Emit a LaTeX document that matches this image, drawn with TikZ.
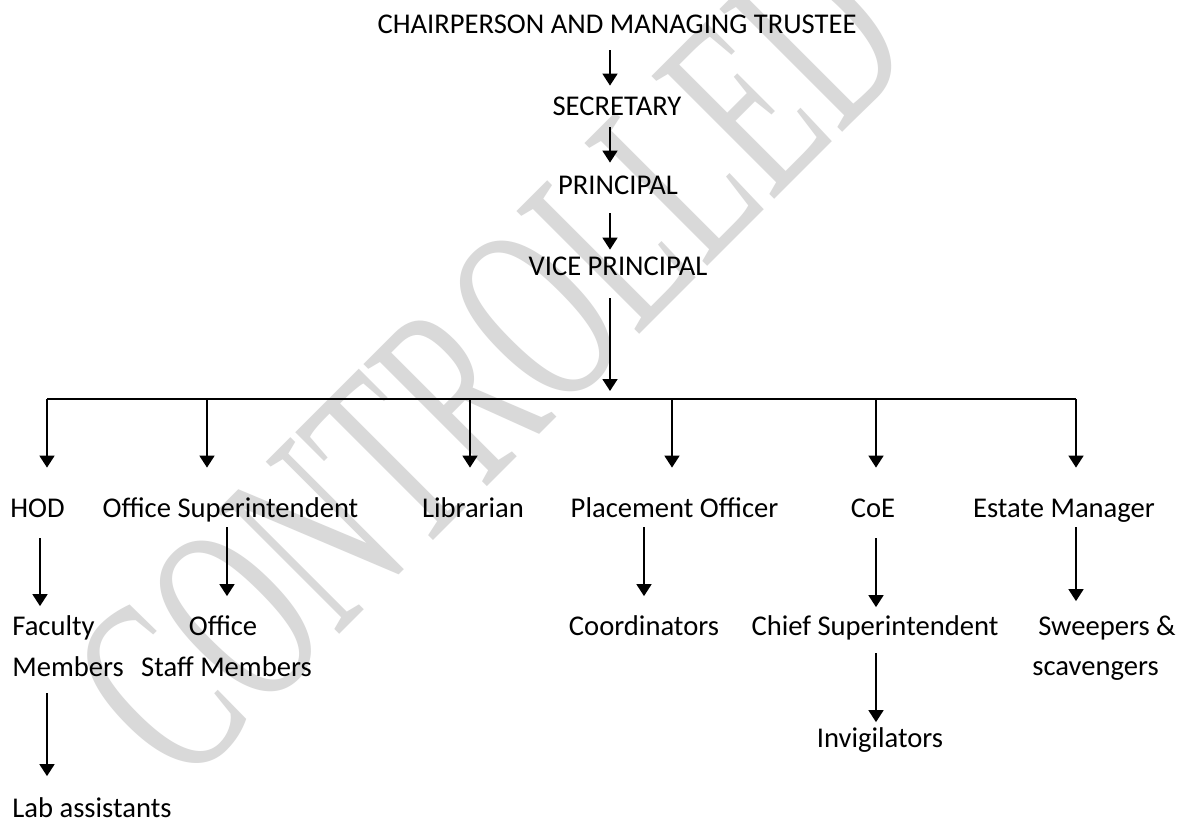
\documentclass[tikz,border=0pt]{standalone}
\usepackage{fontspec}
\setmainfont{Carlito}
\newfontfamily\markfont{Liberation Serif}
\usetikzlibrary{arrows.meta}

\begin{document}
\begin{tikzpicture}[x=0.5pt,y=-0.5pt,
    lbl/.style={inner sep=0pt,anchor=base,text height=9pt,text depth=0pt,
      font=\fontsize{14.3}{17}\selectfont},
    arr/.style={line width=0.9pt,-{Triangle[length=6pt,width=7.5pt]}},
    link/.style={line width=0.9pt},
    stamp/.style={inner sep=0pt,rotate=45,yscale=1.7,text=black!15,
      font=\markfont\fontsize{78}{78}\selectfont}]
  \fill[white] (0,0) rectangle (1179,819);
  \useasboundingbox (0,0) rectangle (1179,819);

  % watermark behind everything
  \node[stamp] (wm) at (490,362) {CONTROLLED};

  % top of the chain
  \node[lbl] (chair) at (617,33) {CHAIRPERSON AND MANAGING TRUSTEE};
  \node[lbl] (secr) at (617,115) {SECRETARY};
  \node[lbl] (princ) at (618,194) {PRINCIPAL};
  \node[lbl] (vp) at (618,275) {VICE PRINCIPAL};

  % second level
  \node[lbl] (hod) at (37.5,517) {HOD};
  \node[lbl] (osup) at (230.5,517) {Office Superintendent};
  \node[lbl] (lib) at (473,517) {Librarian};
  \node[lbl] (place) at (674.5,517) {Placement Officer};
  \node[lbl] (coe) at (873,517) {CoE};
  \node[lbl] (estate) at (1064,517) {Estate Manager};

  % third level
  \node[lbl,anchor=base west] (fac) at (12,635) {Faculty};
  \node[lbl,anchor=base west] (mem) at (12,676) {Members};
  \node[lbl] (offc) at (223,635) {Office};
  \node[lbl] (staff) at (226.5,676) {Staff Members};
  \node[lbl] (coord) at (644,635) {Coordinators};
  \node[lbl] (chief) at (875,635) {Chief Superintendent};
  \node[lbl] (sweep) at (1107,635) {Sweepers \&};
  \node[lbl] (scav) at (1095.5,675) {scavengers};

  % last level
  \node[lbl,anchor=base west] (lab) at (12,817) {Lab assistants};
  \node[lbl] (invig) at (880,747) {Invigilators};

  \draw[arr,shorten <=8.5pt,shorten >=5.5pt] (chair.south -| 610,0) -- (secr.north -| 610,0);
  \draw[arr,shorten <=6pt,shorten >=6.5pt] (secr.south -| 610,0) -- (princ.north -| 610,0);
  \draw[arr,shorten <=9.5pt,shorten >=3.5pt] (princ.south -| 610,0) -- (vp.north -| 610,0);

  % branching bar
  \coordinate (bar) at (610,399);
  \coordinate (barL) at (47,399);
  \coordinate (barR) at (1076,399);
  \draw[arr,shorten <=11.5pt,shorten >=4pt] (vp.south -| bar) -- (bar);
  \draw[link] (barL) -- (barR);
  \foreach \x/\n in {47/hod,207/osup,470/lib,672/place,876/coe,1076/estate}
    \draw[arr,shorten >=15.5pt] (\x,0 |- bar) -- (\n.north -| \x,0);

  \draw[arr,shorten <=10.5pt,shorten >=5.25pt] (hod.south -| 40,0) -- (fac.north -| 40,0);
  \draw[arr,shorten <=5pt,shorten >=10.25pt] (osup.south -| 227,0) -- (offc.north -| 227,0);
  \draw[arr,shorten <=5pt,shorten >=10.25pt] (place.south -| 644,0) -- (coord.north -| 644,0);
  \draw[arr,shorten <=10.5pt,shorten >=4.75pt] (coe.south -| 876,0) -- (chief.north -| 876,0);
  \draw[arr,shorten <=5pt,shorten >=7.75pt] (estate.south -| 1076,0) -- (sweep.north -| 1076,0);
  \draw[arr,shorten <=8.5pt,shorten >=11.25pt] (mem.south -| 47,0) -- (lab.north -| 47,0);
  \draw[arr,shorten <=9pt,shorten >=3.25pt] (chief.south -| 876,0) -- (invig.north -| 876,0);
\end{tikzpicture}
\end{document}
